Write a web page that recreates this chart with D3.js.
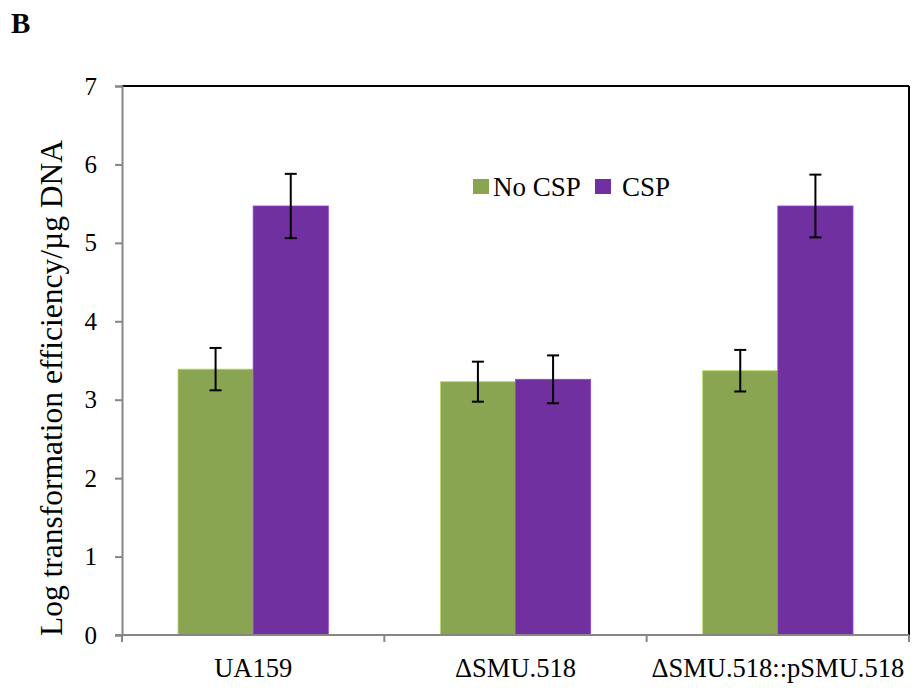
<!DOCTYPE html>
<html>
<head>
<meta charset="utf-8">
<script src="https://cdn.jsdelivr.net/npm/d3@7"></script>
<style>
  html, body { margin: 0; padding: 0; background: #fff; }
  svg { display: block; font-family: "Liberation Serif", "Times New Roman", serif; }
</style>
</head>
<body>
<svg id="chart" width="912" height="688"></svg>
<script>
// Strains and treatments
const categories = ["UA159", "\u0394SMU.518", "\u0394SMU.518::pSMU.518"];
const seriesNames = ["No CSP", "CSP"];
// Mean log transformation efficiency per strain
const noCspValues = [3.39, 3.23, 3.37];
const cspValues = [5.47, 3.26, 5.47];
// Error bar half-widths
const noCspErrors = [0.27, 0.255, 0.265];
const cspErrors = [0.41, 0.305, 0.40];
const yTicks = [0, 1, 2, 3, 4, 5, 6, 7];
const colors = ["#8aa552", "#7030a0"];

const svg = d3.select("#chart");
const W = 912, H = 688;
const m = { left: 122, top: 86, right: 3, bottom: 53 };
const x0 = d3.scaleBand().domain(categories).range([m.left, W - m.right]).padding(0);
const bw = x0.bandwidth();
const groupW = bw * 0.573;
const x1 = d3.scaleBand().domain(seriesNames).range([(bw - groupW) / 2, (bw + groupW) / 2]).padding(0);
const y = d3.scaleLinear().domain([0, 7]).range([H - m.bottom, m.top]);

const rows = categories.map((c, i) => ({
  cat: c,
  bars: [
    { s: seriesNames[0], v: noCspValues[i], e: noCspErrors[i], col: colors[0] },
    { s: seriesNames[1], v: cspValues[i], e: cspErrors[i], col: colors[1] }
  ]
}));

// Frame: black top and right edges
svg.append("line").attr("x1", m.left).attr("x2", W - m.right)
  .attr("y1", y(7)).attr("y2", y(7)).attr("stroke", "#000").attr("stroke-width", 2);
svg.append("line").attr("x1", W - m.right).attr("x2", W - m.right)
  .attr("y1", y(7)).attr("y2", y(0)).attr("stroke", "#000").attr("stroke-width", 2);

// Bars
const g = svg.append("g");
const groups = g.selectAll("g.grp").data(rows).join("g")
  .attr("transform", d => `translate(${x0(d.cat)},0)`);
groups.selectAll("rect").data(d => d.bars).join("rect")
  .attr("x", d => x1(d.s))
  .attr("width", x1.bandwidth())
  .attr("y", d => y(d.v))
  .attr("height", d => y(0) - y(d.v))
  .attr("fill", d => d.col)
  .attr("stroke", d => d3.color(d.col).brighter(0.8))
  .attr("stroke-width", 0.8);

// Error bars
const eb = groups.selectAll("g.err").data(d => d.bars).join("g")
  .attr("transform", d => `translate(${x1(d.s) + x1.bandwidth() / 2},0)`);
eb.append("line").attr("x1", 0).attr("x2", 0)
  .attr("y1", d => y(d.v + d.e)).attr("y2", d => y(d.v - d.e))
  .attr("stroke", "#000").attr("stroke-width", 2);
eb.append("line").attr("x1", -6).attr("x2", 6)
  .attr("y1", d => y(d.v + d.e)).attr("y2", d => y(d.v + d.e))
  .attr("stroke", "#000").attr("stroke-width", 2);
eb.append("line").attr("x1", -6).attr("x2", 6)
  .attr("y1", d => y(d.v - d.e)).attr("y2", d => y(d.v - d.e))
  .attr("stroke", "#000").attr("stroke-width", 2);

// Y axis
const yAxis = svg.append("g").attr("transform", `translate(${m.left},0)`)
  .call(d3.axisLeft(y).tickValues(yTicks).tickFormat(d3.format("d")).tickSize(7).tickPadding(18));
yAxis.select(".domain").attr("stroke", "#868686").attr("stroke-width", 2);
yAxis.selectAll(".tick line").attr("stroke", "#868686").attr("stroke-width", 2);
yAxis.selectAll(".tick text").attr("font-size", 25).attr("fill", "#000")
  .attr("font-family", "Liberation Serif");

// X axis: ticks at category boundaries
const xAxisG = svg.append("g");
xAxisG.append("line").attr("x1", m.left - 7).attr("x2", W - m.right)
  .attr("y1", y(0)).attr("y2", y(0)).attr("stroke", "#868686").attr("stroke-width", 2);
const bounds = categories.map(c => x0(c)).concat([x0(categories[categories.length - 1]) + bw]);
xAxisG.selectAll("line.tk").data(bounds).join("line").attr("class", "tk")
  .attr("x1", d => d).attr("x2", d => d)
  .attr("y1", y(0)).attr("y2", y(0) + 7)
  .attr("stroke", "#868686").attr("stroke-width", 2);
xAxisG.selectAll("text").data(categories).join("text")
  .attr("x", d => x0(d) + bw / 2).attr("y", y(0) + 42)
  .attr("text-anchor", "middle").attr("font-size", 26.5).text(d => d);

// Y axis title
svg.append("text")
  .attr("transform", `translate(62,388) rotate(-90)`)
  .attr("text-anchor", "middle").attr("font-size", 31.5)
  .text("Log transformation efficiency/\u00b5g DNA");

// Legend
const legend = svg.append("g").attr("transform", "translate(473,179)");
const items = [
  { name: seriesNames[0], col: colors[0], x: 0, tx: 20 },
  { name: seriesNames[1], col: colors[1], x: 122, tx: 27 }
];
const li = legend.selectAll("g").data(items).join("g").attr("transform", d => `translate(${d.x},0)`);
li.append("rect").attr("width", 16).attr("height", 15).attr("fill", d => d.col);
li.append("text").attr("x", d => d.tx).attr("y", 17).attr("font-size", 27).text(d => d.name);

// Panel letter
svg.append("text").attr("x", 11).attr("y", 33).attr("font-size", 29)
  .attr("font-weight", "bold").text("B");
</script>
</body>
</html>
